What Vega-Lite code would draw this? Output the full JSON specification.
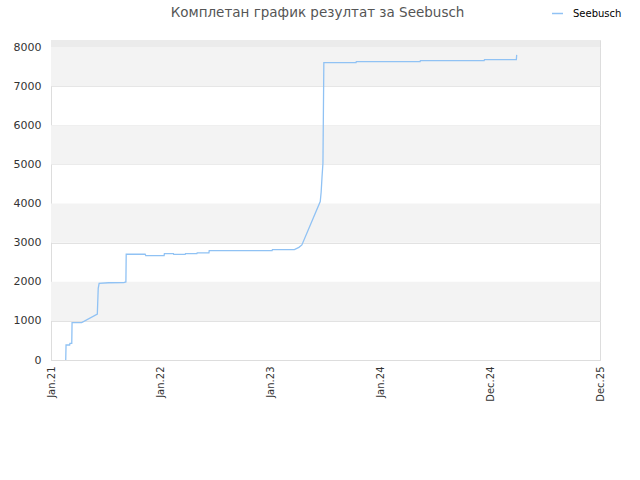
{
  "$schema": "https://vega.github.io/schema/vega-lite/v6.json",
  "autosize": "none",
  "width": 549,
  "height": 320,
  "padding": {"left": 51, "top": 40, "right": 40, "bottom": 120},
  "background": "white",
  "title": {"text": "Комплетан график резултат за Seebusch", "fontSize": 13.5, "fontWeight": "normal", "color": "#555555", "font": "DejaVu Sans", "offset": -12, "anchor": "middle", "dx": -8},
  "config": {
    "view": {"stroke": "#dddddd"},
    "axis": {"labelFont": "DejaVu Sans", "labelFontSize": 10, "labelColor": "#333333", "domainColor": "#dddddd", "tickColor": "#dddddd", "gridColor": "#e2e2e2"},
    "legend": {"labelFont": "DejaVu Sans", "labelFontSize": 10, "labelColor": "#000000"}
  },
  "datasets": {
    "bands": [
      {"lo": 1000, "hi": 2000, "shade": "a"},
      {"lo": 3000, "hi": 4000, "shade": "a"},
      {"lo": 5000, "hi": 6000, "shade": "a"},
      {"lo": 7000, "hi": 8000, "shade": "a"},
      {"lo": 8000, "hi": 8180, "shade": "b"}
    ],
    "scores": [
      {"date": "2021-02-19", "score": 0, "series": "Seebusch"},
      {"date": "2021-02-20", "score": 384, "series": "Seebusch"},
      {"date": "2021-03-04", "score": 384, "series": "Seebusch"},
      {"date": "2021-03-05", "score": 427, "series": "Seebusch"},
      {"date": "2021-03-11", "score": 427, "series": "Seebusch"},
      {"date": "2021-03-12", "score": 955, "series": "Seebusch"},
      {"date": "2021-04-13", "score": 955, "series": "Seebusch"},
      {"date": "2021-06-04", "score": 1176, "series": "Seebusch"},
      {"date": "2021-06-07", "score": 1833, "series": "Seebusch"},
      {"date": "2021-06-10", "score": 1961, "series": "Seebusch"},
      {"date": "2021-07-11", "score": 1975, "series": "Seebusch"},
      {"date": "2021-08-31", "score": 1980, "series": "Seebusch"},
      {"date": "2021-09-07", "score": 1995, "series": "Seebusch"},
      {"date": "2021-09-08", "score": 2703, "series": "Seebusch"},
      {"date": "2021-11-10", "score": 2703, "series": "Seebusch"},
      {"date": "2021-11-12", "score": 2668, "series": "Seebusch"},
      {"date": "2022-01-12", "score": 2668, "series": "Seebusch"},
      {"date": "2022-01-13", "score": 2719, "series": "Seebusch"},
      {"date": "2022-02-12", "score": 2719, "series": "Seebusch"},
      {"date": "2022-02-13", "score": 2700, "series": "Seebusch"},
      {"date": "2022-03-23", "score": 2700, "series": "Seebusch"},
      {"date": "2022-03-24", "score": 2719, "series": "Seebusch"},
      {"date": "2022-05-01", "score": 2719, "series": "Seebusch"},
      {"date": "2022-05-02", "score": 2736, "series": "Seebusch"},
      {"date": "2022-06-10", "score": 2740, "series": "Seebusch"},
      {"date": "2022-06-11", "score": 2796, "series": "Seebusch"},
      {"date": "2023-01-06", "score": 2796, "series": "Seebusch"},
      {"date": "2023-01-07", "score": 2822, "series": "Seebusch"},
      {"date": "2023-03-21", "score": 2822, "series": "Seebusch"},
      {"date": "2023-04-05", "score": 2880, "series": "Seebusch"},
      {"date": "2023-04-15", "score": 2941, "series": "Seebusch"},
      {"date": "2023-06-15", "score": 4049, "series": "Seebusch"},
      {"date": "2023-06-18", "score": 4288, "series": "Seebusch"},
      {"date": "2023-06-21", "score": 4688, "series": "Seebusch"},
      {"date": "2023-06-24", "score": 5030, "series": "Seebusch"},
      {"date": "2023-06-27", "score": 7604, "series": "Seebusch"},
      {"date": "2023-10-12", "score": 7604, "series": "Seebusch"},
      {"date": "2023-10-13", "score": 7629, "series": "Seebusch"},
      {"date": "2024-05-12", "score": 7629, "series": "Seebusch"},
      {"date": "2024-05-13", "score": 7655, "series": "Seebusch"},
      {"date": "2024-12-11", "score": 7655, "series": "Seebusch"},
      {"date": "2024-12-12", "score": 7680, "series": "Seebusch"},
      {"date": "2025-03-28", "score": 7680, "series": "Seebusch"},
      {"date": "2025-03-29", "score": 7800, "series": "Seebusch"}
    ]
  },
  "layer": [
    {
      "data": {"name": "bands"},
      "transform": [{"filter": "datum.shade == 'a'"}],
      "mark": {"type": "rect", "color": "#f3f3f3"},
      "encoding": {
        "y": {"field": "lo", "type": "quantitative", "title": null, "scale": {"domain": [0, 8180], "nice": false, "zero": true},
          "axis": {"title": null, "values": [0, 1000, 2000, 3000, 4000, 5000, 6000, 7000, 8000], "format": "d", "tickSize": 0, "labelPadding": 10, "domain": true, "labelFontSize": 11}},
        "y2": {"field": "hi"}
      }
    },
    {
      "data": {"name": "bands"},
      "transform": [{"filter": "datum.shade == 'b'"}],
      "mark": {"type": "rect", "color": "#ebebeb"},
      "encoding": {
        "y": {"field": "lo", "type": "quantitative", "title": null, "scale": {"domain": [0, 8180], "nice": false, "zero": true},
          "axis": {"title": null, "values": [0, 1000, 2000, 3000, 4000, 5000, 6000, 7000, 8000], "format": "d", "tickSize": 0, "labelPadding": 10, "domain": true, "labelFontSize": 11}},
        "y2": {"field": "hi"}
      }
    },
    {
      "data": {"name": "scores"},
      "mark": {"type": "line", "strokeWidth": 1.3, "interpolate": "linear"},
      "encoding": {
        "x": {
          "field": "date", "type": "temporal",
          "scale": {"type": "utc", "domain": [{"year": 2021, "month": 1, "date": 1, "utc": true}, {"year": 2025, "month": 12, "date": 31, "utc": true}]},
          "axis": {
            "title": null, "grid": false, "labelAngle": -90, "format": "%b.%y", "labelPadding": 6, "tickSize": 0,
            "values": [
              {"year": 2021, "month": 1, "date": 1, "utc": true},
              {"year": 2022, "month": 1, "date": 1, "utc": true},
              {"year": 2023, "month": 1, "date": 1, "utc": true},
              {"year": 2024, "month": 1, "date": 1, "utc": true},
              {"year": 2024, "month": 12, "date": 31, "utc": true},
              {"year": 2025, "month": 12, "date": 31, "utc": true}
            ]
          }
        },
        "y": {
          "field": "score", "type": "quantitative", "title": null,
          "scale": {"domain": [0, 8180], "nice": false, "zero": true},
          "axis": {"title": null, "values": [0, 1000, 2000, 3000, 4000, 5000, 6000, 7000, 8000], "format": "d", "tickSize": 0, "labelPadding": 10, "domain": true, "labelFontSize": 11}
        },
        "color": {
          "field": "series", "type": "nominal",
          "scale": {"range": ["#90c2f4"]},
          "legend": {"title": null, "orient": "none", "legendX": 500, "legendY": -33, "symbolType": "stroke", "symbolSize": 120, "symbolStrokeWidth": 1.5, "labelOffset": 9}
        }
      }
    }
  ]
}
